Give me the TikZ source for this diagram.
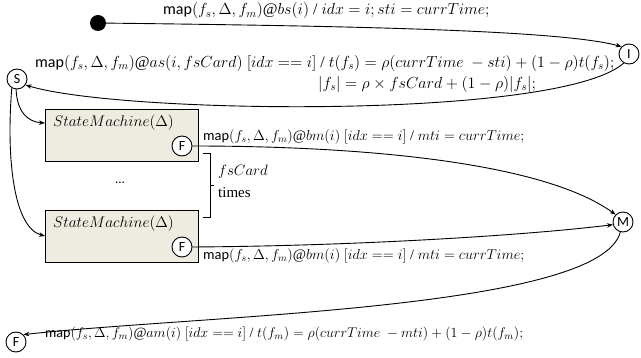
\RequirePackage{fix-cm}
\documentclass[tikz,border=0pt]{standalone}
\usepackage{fontspec}
\setmainfont{Liberation Serif}
\newfontfamily\calib{Carlito}
\usetikzlibrary{arrows.meta}
\definecolor{boxfill}{RGB}{238,236,225}
\begin{document}
\begin{tikzpicture}[x=1pt,y=-1pt,
  st/.style={circle, draw, line width=0.9pt, minimum size=20pt, inner sep=0pt, font=\calib\fontsize{14}{16}\selectfont, fill=white},
  smbox/.style={draw, fill=boxfill, line width=1pt, minimum width=153pt, minimum height=52pt, inner sep=0pt},
  tr/.style={-{Stealth[length=6pt,width=4.5pt]}, line width=0.9pt},
  lbl/.style={inner sep=0pt, anchor=west, font=\fontsize{14.4}{17}\selectfont}]
\useasboundingbox (0,0) rectangle (641,358);
% states
\node[circle, fill, minimum size=16pt, inner sep=0pt] (init) at (98,23) {};
\node[st] (I) at (629,54) {I};
\node[st] (S) at (17,79) {S};
\node[smbox] (b1) at (121.5,136) {};
\node[smbox] (b2) at (121.5,236.5) {};
\node[lbl, font=\fontsize{15.4}{18}\selectfont] (t1) at (53,123) {$StateMachine(\Delta)$};
\node[lbl, font=\fontsize{15.4}{18}\selectfont] (t2) at (53,224) {$StateMachine(\Delta)$};
\node[st] (F1) at (182,146) {F};
\node[st] (F2) at (182,247) {F};
\node[inner sep=0pt, font=\calib\fontsize{13}{15}\selectfont] (dots) at (120,183) {...};
\node[st] (M) at (623,222) {M};
\node[st] (F3) at (16,342) {F};
\coordinate (b1in) at (45,123);
\coordinate (b2in) at (45,236);
% transitions
\draw[tr] (init) .. controls (350,26) and (560,30) .. (I.135);
\draw[tr] (I.240) .. controls (560,120) and (120,114) .. (S.-35);
\draw[tr] (S.-95) .. controls (17,112) and (28,122) .. (b1in);
\draw[tr] (S.-120) .. controls (6,160) and (14,228) .. (b2in);
\draw[tr] (F1.east) .. controls (350,146) and (540,160) .. (M.135);
\draw[tr] (F2.east) .. controls (350,246) and (520,236) .. (M.195);
\draw[tr] (M.255) .. controls (600,310) and (200,315) .. (F3.45);
% brace
\draw[line width=0.8pt] (203,153) -- (210,153) -- (210,217) -- (203,217);
\draw[line width=0.8pt] (210,185) -- (214,185);
\node[lbl, font=\fontsize{15}{18}\selectfont] (fs) at (218,172) {$fsCard$};
\node[lbl, font=\fontsize{15}{18}\selectfont] (tm) at (218,193) {times};
% labels
\node[lbl, font=\fontsize{16}{18}\selectfont] (l0) at (163,11) {{\calib map}$(f_s,\Delta,f_m)$@$bs(i)$ / $idx = i; sti = currTime;$};
\node[lbl, font=\fontsize{16}{18}\selectfont] (l1) at (35,63.5) {{\calib map}$(f_s,\Delta,f_m)$@$as(i,fsCard)$ $[idx == i]$ / $t(f_s) = \rho(currTime\ - sti) + (1-\rho)t(f_s);$};
\node[lbl, font=\fontsize{16}{18}\selectfont] (l2) at (318,84.5) {$|f_s| = \rho\times fsCard + (1-\rho)|f_s|;$};
\node[lbl] (l3) at (203,137) {{\calib map}$(f_s,\Delta,f_m)$@$bm(i)$ $[idx == i]$ / $mti = currTime;$};
\node[lbl] (l4) at (203,256) {{\calib map}$(f_s,\Delta,f_m)$@$bm(i)$ $[idx == i]$ / $mti = currTime;$};
\node[lbl, font=\fontsize{14.1}{17}\selectfont] (l5) at (45,334) {{\calib map}$(f_s,\Delta,f_m)$@$am(i)$ $[idx == i]$ / $t(f_m) = \rho(currTime\ - mti) + (1-\rho)t(f_m);$};
\end{tikzpicture}
\end{document}
